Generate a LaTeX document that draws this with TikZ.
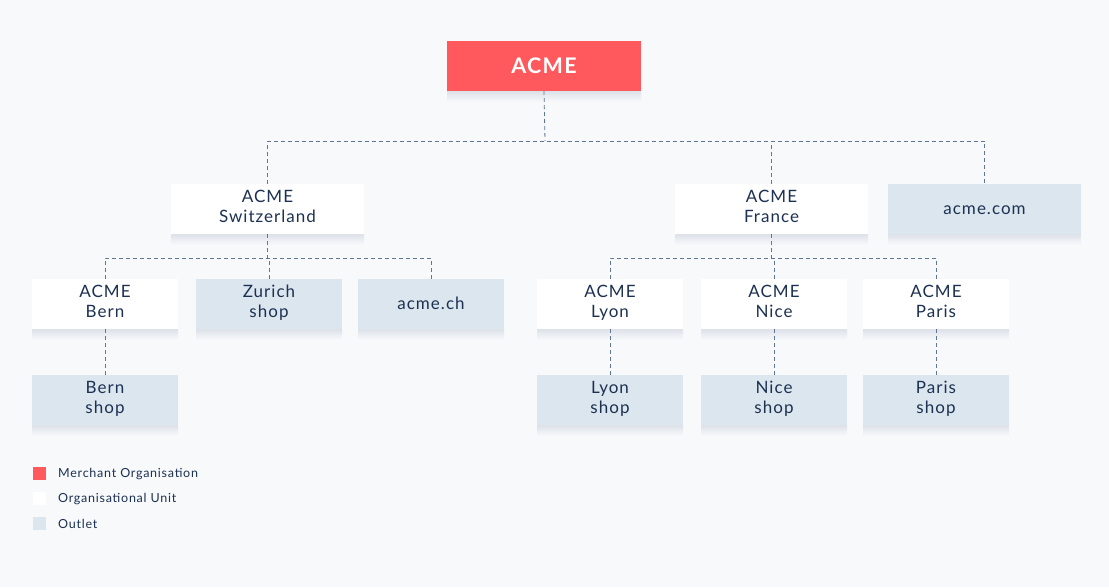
\documentclass[tikz,border=0pt]{standalone}
\usepackage{fontspec}
\setmainfont{Lato}[LetterSpace=6]
\usetikzlibrary{positioning,calc}
\definecolor{bgc}{HTML}{F8F9FB}
\definecolor{navy}{HTML}{1C3152}
\definecolor{redc}{HTML}{FF585D}
\definecolor{outc}{HTML}{DCE6EE}
\definecolor{linec}{HTML}{5F7694}
\definecolor{shadc}{HTML}{DDE2E9}
\tikzset{
  box/.style={anchor=north west, inner sep=0pt, outer sep=0pt, minimum height=50pt, text=navy, align=center, font=\fontsize{17}{20}\selectfont, execute at begin node={\rule{0pt}{16.5pt}}, execute at end node={\rule[-6pt]{0pt}{1pt}}},
  orgbox/.style={box, fill=white, minimum width=193pt},
  unitbox/.style={box, fill=white, minimum width=146pt},
  outbox/.style={box, fill=outc, minimum width=146pt},
  merchbox/.style={anchor=north west, inner sep=0pt, outer sep=0pt, minimum height=50pt, align=center, fill=redc, minimum width=194pt, text=white, font=\fontsize{21.5}{26}\bfseries\selectfont, execute at begin node={\rule{0pt}{21pt}}, execute at end node={\rule[-7pt]{0pt}{1pt}}},
  link/.style={draw=linec, line width=0.8pt, dash pattern=on 4pt off 3pt},
  legsq/.style={anchor=north west, inner sep=0pt, outer sep=0pt, minimum size=13pt},
  legtxt/.style={anchor=west, inner sep=0pt, text=navy, font=\fontsize{12.5}{14}\selectfont},
}
\newcommand{\boxshadow}[1]{\shade[top color=shadc, bottom color=bgc] (#1.south west) rectangle ($(#1.south east)+(0,11)$);}
\begin{document}
\begin{tikzpicture}[x=1pt,y=-1pt]
\fill[bgc] (0,0) rectangle (1109,587);
\useasboundingbox (0,0) rectangle (1109,587);
% nodes
\node[merchbox] (acme) at (447,41) {ACME};
\node[orgbox] (sw) at (171,184) {ACME\\Switzerland};
\node[orgbox] (fr) at (675,184) {ACME\\France};
\node[orgbox, fill=outc] (com) at (888,184) {acme.com};
\node[unitbox] (bern) at (32,279) {ACME\\Bern};
\node[outbox] (zur) at (196,279) {Zurich\\shop};
\node[outbox] (ch) at (358,279) {acme.ch};
\node[unitbox] (lyon) at (537,279) {ACME\\Lyon};
\node[unitbox] (nice) at (701,279) {ACME\\Nice};
\node[unitbox] (paris) at (863,279) {ACME\\Paris};
\node[outbox] (bshop) at (32,375) {Bern\\shop};
\node[outbox] (lshop) at (537,375) {Lyon\\shop};
\node[outbox] (nshop) at (701,375) {Nice\\shop};
\node[outbox] (pshop) at (863,375) {Paris\\shop};
\foreach \n in {acme,sw,fr,com,bern,zur,ch,lyon,nice,paris,bshop,lshop,nshop,pshop} {\boxshadow{\n}}
% hubs
\coordinate (h1) at (545,141);
\coordinate (h2) at (267,258);
\coordinate (h3) at (773,258);
% connectors
\draw[link] (acme.south) -- (h1);
\draw[link] (sw.north) -- (sw.north |- h1) -- (com.north |- h1) -- (com.north);
\draw[link] (fr.north) -- (fr.north |- h1);
\draw[link] (sw.south) -- (sw.south |- h2);
\draw[link] (bern.north) -- (bern.north |- h2) -- (ch.north |- h2) -- (ch.north);
\draw[link] (zur.north) -- (zur.north |- h2);
\draw[link] (fr.south) -- (fr.south |- h3);
\draw[link] (lyon.north) -- (lyon.north |- h3) -- (paris.north |- h3) -- (paris.north);
\draw[link] (nice.north) -- (nice.north |- h3);
\draw[link] (bern) -- (bshop);
\draw[link] (lyon) -- (lshop);
\draw[link] (nice) -- (nshop);
\draw[link] (paris) -- (pshop);
% redraw nodes on top of links
\node[merchbox] at (447,41) {ACME};
\node[orgbox] at (171,184) {ACME\\Switzerland};
\node[orgbox] at (675,184) {ACME\\France};
\node[orgbox, fill=outc] at (888,184) {acme.com};
\node[unitbox] at (32,279) {ACME\\Bern};
\node[outbox] at (196,279) {Zurich\\shop};
\node[outbox] at (358,279) {acme.ch};
\node[unitbox] at (537,279) {ACME\\Lyon};
\node[unitbox] at (701,279) {ACME\\Nice};
\node[unitbox] at (863,279) {ACME\\Paris};
\node[outbox] at (32,375) {Bern\\shop};
\node[outbox] at (537,375) {Lyon\\shop};
\node[outbox] at (701,375) {Nice\\shop};
\node[outbox] at (863,375) {Paris\\shop};
% legend
\node[legsq, fill=redc] (l1) at (33,467) {};
\node[legsq, fill=white] (l2) at (33,492) {};
\node[legsq, fill=outc] (l3) at (33,517) {};
\node[legtxt] (t1) at (58,474) {Merchant Organisation};
\node[legtxt] (t2) at (58,499) {Organisational Unit};
\node[legtxt] (t3) at (58,524) {Outlet};
\end{tikzpicture}
\end{document}
